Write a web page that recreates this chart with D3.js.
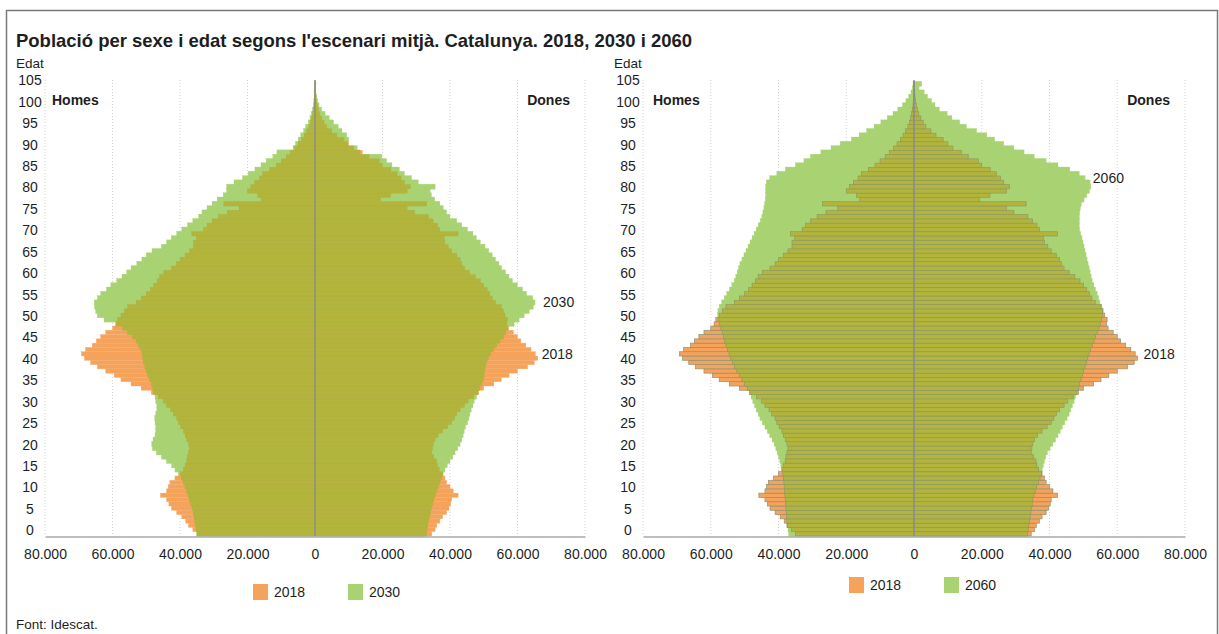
<!DOCTYPE html>
<html><head><meta charset="utf-8">
<script src="https://cdn.jsdelivr.net/npm/d3@7"></script>
<style>
body{margin:0;background:#fff}
svg{display:block}
text{font-family:"Liberation Sans",Arial,Helvetica,sans-serif;fill:#1e1e1e}
</style>
</head><body>
<svg id="c" width="1219" height="634"></svg>
<script>
// ---- DATA (thousands of people) ----
const ages = d3.range(0, 106);
const men2018 = [35,36.2,37.5,38.3,39.5,41,42.5,43.3,44,45.8,
 44,43.5,43,41.5,40,39,38.5,38,37.8,37.5,
 37.2,37.5,38,38.5,39,39.8,40.5,41,42,42.8,
 44,45,46.5,48.5,51.5,54.5,57.5,59.5,62,64.5,
 66.5,68.3,69.2,68,66,64.8,63.5,62,60,59,
 58.5,57.5,56.5,55.5,53,51.5,50,48.8,47.8,46.8,
 46,44.8,42.5,41,40,38.5,37.2,36,36,35.2,
 36.5,33,32,30.5,28.6,26,22.5,27,16,17,
 20,19,17.9,16.5,15.5,13.5,11.5,10,8.5,7.3,
 6,5,4,3.2,2.5,1.8,1.3,1,0.7,0.5,
 0.3,0.2,0.15,0.1,0.05,0.05];
const women2018 = [34.6,35.6,36.1,37,37.8,39,39.7,40.2,40.5,42.4,
 41,40,39,38.5,37.8,36.8,36.3,36,35.2,34.6,
 34.8,35.1,35.6,36.5,37.8,39.3,40.5,41.3,42,43,
 44.3,45.4,47,48.5,50,53,55.2,57.5,60,63,
 65,66,65.3,64,62.5,61,60,58.8,57.3,56.8,
 57,56.3,55.8,55.2,53.5,52.5,51.8,51,50,49,
 47.5,45.8,44.3,43.5,43,42,40.5,39.5,38.5,38.3,
 42.4,37,36.3,35,33.6,29.5,27.3,33.1,19.4,22.4,
 27.3,28.2,26.5,25.5,24.3,22.5,20,19,16,14,
 11.5,10,8.6,6.5,5,3.5,2.7,2,1.4,1,
 0.7,0.45,0.3,0.2,0.12,0.1];
const men2030 = [35,35.2,35.4,35.6,35.8,36,36.4,36.8,37.2,37.6,
 38,38.5,39,39.5,40.5,41.5,42.5,44,45.5,47,
 48.2,48.4,48,47.4,47.2,47.2,47.4,47.5,47.2,46.9,
 46.9,47.2,47.4,47.8,48.1,48.4,49,49.5,50,50.4,
 50.8,51,51.2,51.6,52.3,53,54,55.5,57,59,
 62.5,64.5,65,65.3,65.4,64.5,63.5,61.8,60.5,58.8,
 57.2,55.8,54.5,52.8,51.3,50,48.3,45.5,44,42.6,
 41,39.5,37.8,36.2,34.5,33.5,32,30.5,29,27.2,
 26.2,26.2,24,21.5,19.8,17.8,16,14.5,12.5,11.3,
 6.5,5.8,5,4.2,3.4,2.8,2,1.5,1.1,0.8,
 0.5,0.35,0.25,0.15,0.1,0.1];
const women2030 = [33,33.2,33.4,33.6,33.9,34.2,34.5,34.9,35.2,35.6,
 36,36.5,37,37.5,38,38.5,39.2,40,40.8,41.5,
 42.3,43,43.5,43.9,44.2,44.6,45.2,45.6,45.9,46.3,
 46.8,47.2,47.9,48.3,48.8,49.4,49.8,50.1,50.3,50.4,
 50.8,51.3,52,52.8,53.8,54.8,55.8,56.5,57.2,59,
 60.5,62,63.5,64.7,65.2,64.5,62.7,61.5,60,58.5,
 57.5,56.5,55.3,54.5,53.5,52.5,51.5,50.4,49,47.8,
 46.8,45.2,43.5,42,40,39,38,37,35.5,34.5,
 34.1,35.6,30.6,28.6,26.5,25,22.8,21.2,19.8,13.3,
 12.5,9.6,10,9.4,8,6.9,5.5,4.2,3,2,
 1.2,0.8,0.5,0.3,0.2,0.3];
const men2060 = [37,37.2,37.4,37.5,37.6,37.7,37.8,37.9,38,38.1,
 38.2,38.3,38.4,38.5,38.7,39,39.3,39.6,40,40.4,
 40.8,41.3,41.9,42.6,43.3,44,44.8,45.5,46,46.6,
 47.1,47.6,48.1,48.6,49.2,50,50.8,51.5,52.3,53,
 53.6,54.1,54.6,55.1,55.5,55.9,56.3,56.6,57,57.4,
 57.8,58,57.9,57.5,56.8,56,55.3,54.5,53.8,53.1,
 52.6,52.2,51.8,51.4,50.8,50.2,49.6,49,48.4,47.8,
 47.2,46.6,46,45.4,44.9,44.6,44.3,44.1,43.9,43.8,
 43.8,43.8,43.6,42.6,40.5,38,35,32.5,30.6,27.5,
 24.5,21.8,18.5,16.2,14,11.8,9.8,7.9,6.2,4.8,
 3.4,2.4,1.6,0.9,0.5,0.3];
const women2060 = [33.5,33.7,33.9,34.1,34.3,34.5,34.7,34.9,35.1,35.4,
 35.8,36.2,36.7,37.2,37.6,37.9,38.2,38.5,38.9,39.4,
 40.2,41,41.8,42.5,43.2,43.8,44.5,45.2,45.8,46.3,
 46.8,47.3,47.7,48.1,48.5,48.9,49.3,49.7,50.1,50.5,
 50.9,51.3,51.7,52.1,52.6,53.1,53.6,54.1,54.6,55,
 55.4,55.6,55.7,55.5,54.9,54.5,54.1,53.6,53.1,52.6,
 52.3,52,51.7,51.4,51.1,50.8,50.5,50.2,49.9,49.6,
 49.2,48.9,48.8,48.8,48.8,48.9,49.1,49.4,50.2,51,
 51.8,52.2,52,50.5,48.8,46,42.5,39,35.5,32.5,
 29.5,26.5,23.8,21.5,18.5,15.5,13.5,11.2,9.8,7.5,
 6.2,5.2,4,3,1.5,2.3];

const xTickValues = [-80,-60,-40,-20,0,20,40,60,80];
const xTickLabels = ["80.000","60.000","40.000","20.000","0","20.000","40.000","60.000","80.000"];
const yTickValues = d3.range(0, 106, 5);
const title = "Població per sexe i edat segons l'escenari mitjà. Catalunya. 2018, 2030 i 2060";
const source = "Font: Idescat.";

// ---- STYLE ----
const C_OR = "#F5A25A", C_GR = "#A9D373", C_OL = "#B3B43B";
const svg = d3.select("#c");

svg.append("rect").attr("x", 6.5).attr("y", 10.5).attr("width", 1211).attr("height", 640)
  .attr("fill", "none").attr("stroke", "#7a7a7a").attr("stroke-width", 1.5);

svg.append("text").attr("x", 16).attr("y", 47).attr("font-size", 18.5).attr("font-weight", "bold")
  .attr("textLength", 676).attr("lengthAdjust", "spacingAndGlyphs").text(title);
svg.append("text").attr("x", 16).attr("y", 629).attr("font-size", 13.5).text(source);

const y = d3.scaleBand().domain(ages.slice().reverse()).range([81.7, 536]).padding(0);

function drawChart(cfg) {
  const g = svg.append("g");
  const x = d3.scaleLinear().domain([-80, 80]).range([cfg.x0, cfg.x1]);
  const zero = x(0);
  // gridlines
  g.selectAll(".grid").data(xTickValues.filter(d => d !== 0)).join("line")
    .attr("x1", d => x(d)).attr("x2", d => x(d)).attr("y1", 80).attr("y2", 536)
    .attr("stroke", "#d4d4d4").attr("stroke-width", 1).attr("stroke-dasharray", "1,2");

  const rows = [];
  ages.forEach(a => {
    rows.push({a, side: -1, v18: cfg.m18[a], vB: cfg.mB[a]});
    rows.push({a, side: 1, v18: cfg.w18[a], vB: cfg.wB[a]});
  });
  const bx = (d, v) => d.side < 0 ? x(-v) : zero;
  const bw = v => x(v) - zero;
  const h = y.bandwidth();

  g.selectAll(".gb").data(rows).join("rect")
    .attr("x", d => bx(d, d.vB)).attr("y", d => y(d.a) - 0.4).attr("width", d => bw(d.vB))
    .attr("height", h + 0.8).attr("fill", C_GR).attr("stroke", C_GR).attr("stroke-width", 0.3);
  g.selectAll(".ob").data(rows.filter(d => d.v18 > d.vB)).join("rect")
    .attr("x", d => bx(d, d.v18)).attr("y", d => y(d.a)).attr("width", d => bw(d.v18))
    .attr("height", h).attr("fill", C_OR)
    .attr("stroke", cfg.stroke).attr("stroke-width", cfg.sw);
  g.selectAll(".lb").data(rows).join("rect")
    .attr("x", d => bx(d, Math.min(d.v18, d.vB))).attr("y", d => y(d.a))
    .attr("width", d => bw(Math.min(d.v18, d.vB)))
    .attr("height", h).attr("fill", C_OL)
    .attr("stroke", cfg.strokeOl).attr("stroke-width", cfg.sw);

  // zero line
  g.append("line").attr("x1", zero).attr("x2", zero).attr("y1", 80).attr("y2", 536)
    .attr("stroke", "#8d8d8d").attr("stroke-width", 1.5);

  // x axis
  const ax = g.append("g").attr("transform", "translate(0,536.5)")
    .call(d3.axisBottom(x).tickValues(xTickValues).tickFormat((d, i) => xTickLabels[i])
      .tickSize(0).tickSizeOuter(0).tickPadding(13));
  ax.select(".domain").attr("stroke", "#a8a8a8").attr("stroke-width", 1.5);
  ax.selectAll("text").attr("font-size", 14).attr("fill", "#1e1e1e")
    .attr("font-family", "Liberation Sans, Arial, sans-serif");

  // y axis
  const ay = g.append("g").attr("transform", `translate(${cfg.yLab},0)`)
    .call(d3.axisLeft(y).tickValues(yTickValues).tickSize(0).tickPadding(0));
  ay.select(".domain").remove();
  ay.selectAll("text").attr("x", 0).attr("y", -3).attr("text-anchor", "middle")
    .attr("font-size", 14).attr("fill", "#1e1e1e")
    .attr("font-family", "Liberation Sans, Arial, sans-serif");

  g.append("text").attr("x", cfg.yLab - 14).attr("y", 68).attr("font-size", 13.5).text("Edat");
  g.append("text").attr("x", cfg.homesX).attr("y", 105).attr("font-size", 14)
    .attr("font-weight", "bold").text("Homes");
  g.append("text").attr("x", x(80) - 15).attr("y", 105).attr("font-size", 14)
    .attr("font-weight", "bold").attr("text-anchor", "end").text("Dones");

  // series labels
  cfg.labels.forEach(l => {
    g.append("text").attr("x", x(l.v) + l.dx).attr("y", y(l.age) + h / 2 + 5)
      .attr("font-size", 14).text(l.t);
  });

  // legend
  cfg.legend.items.forEach((it, i) => {
    const lx = cfg.legend.x + i * 95;
    g.append("rect").attr("x", lx).attr("y", cfg.legend.y - 8).attr("width", 15).attr("height", 16)
      .attr("fill", it.c);
    g.append("text").attr("x", lx + 21).attr("y", cfg.legend.y + 5).attr("font-size", 14).text(it.t);
  });
}

drawChart({
  x0: 45, x1: 585, yLab: 30, homesX: 52,
  m18: men2018, w18: women2018, mB: men2030, wB: women2030,
  stroke: "#f2ac6e", strokeOl: "#adae40", sw: 0.4,
  labels: [{t: "2030", v: d3.max(women2030), age: 54, dx: 8},
           {t: "2018", v: d3.max(women2018), age: 42, dx: 4}],
  legend: {x: 253, y: 592, items: [{c: C_OR, t: "2018"}, {c: C_GR, t: "2030"}]}
});
drawChart({
  x0: 643, x1: 1185, yLab: 628, homesX: 653,
  m18: men2018, w18: women2018, mB: men2060, wB: women2060,
  stroke: "#8f9274", strokeOl: "#8f9a62", sw: 0.7,
  labels: [{t: "2060", v: d3.max(women2060.slice(70)), age: 83, dx: 2},
           {t: "2018", v: d3.max(women2018), age: 42, dx: 6}],
  legend: {x: 849, y: 585, items: [{c: C_OR, t: "2018"}, {c: C_GR, t: "2060"}]}
});
</script>
</body></html>
